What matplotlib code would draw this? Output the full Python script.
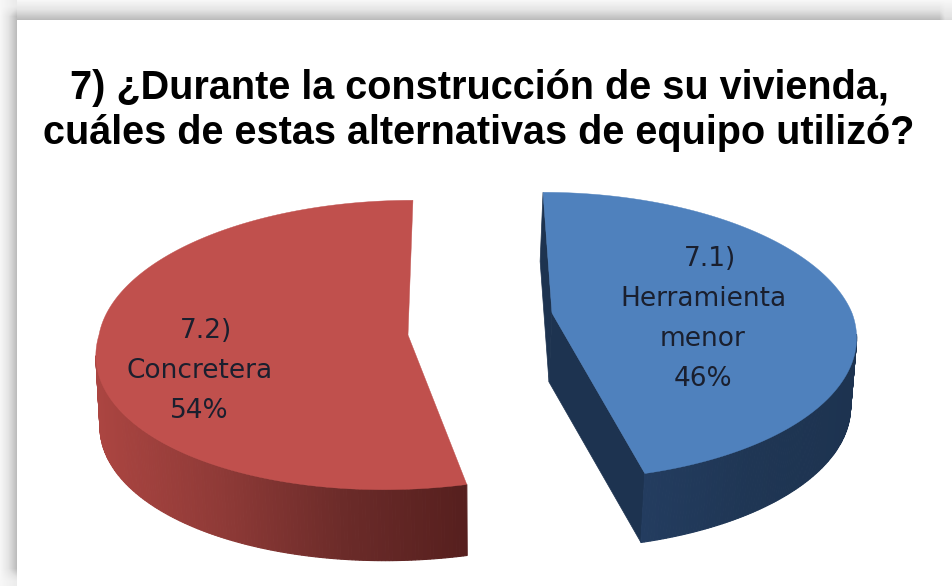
import matplotlib
matplotlib.use('Agg')
import matplotlib.pyplot as plt
import numpy as np
from matplotlib.colors import LinearSegmentedColormap
from matplotlib.patches import Polygon

# chart data
codes = ['7.1)', '7.2)']
names = [['Herramienta', 'menor'], ['Concretera']]
values = [46, 54]
title = '7) ¿Durante la construcción de su vivienda,\ncuáles de estas alternativas de equipo utilizó?'

top_colors = ['#4f81bd', '#c0504d']
wall_colors = [['#1d3350', '#233c5f', '#1f3654', '#1d3350'],
               ['#ab4541', '#8f3a37', '#6b2b29', '#561f1e']]

# geometry of each exploded slice, in pixels: centre, radii, perspective, back/front shear, extrusion
shapes = [dict(cx=552, cy=313, rx=300, ry=140, k=0.16, sb=-10.4, sf=-4, depth=69, dx=-3, faces=True),
          dict(cx=408, cy=335, rx=309, ry=144, k=0.069, sb=5.3, sf=22.7, depth=71, dx=1, faces=False)]
# the lower rim is slightly smaller than the upper one
shrink = 0.01
# label position: centre of the text, first baseline, shift of the code line
label_pos = [(703, 266, 7), (199.5, 338, 7)]
label_gap = 40


def project(t, g):
    # unit circle -> screen, nearer points get a little bigger
    u, v = np.cos(t), np.sin(t)
    s = 1 / (1 + g['k'] * v)
    shear = np.where(v > 0, g['sb'], g['sf']) * v
    return g['cx'] + s * (g['rx'] * u + shear), g['cy'] - s * g['ry'] * v


def draw_slice(ax, start, end, top, walls, g):
    t = np.radians(np.linspace(start, end, 300))
    x, y = project(t, g)
    d, dx = g['depth'], g['dx']
    cx, cy = g['cx'], g['cy']
    low_x = x + dx + (cx - x) * shrink

    # flat cut faces
    if g['faces']:
        for k in [0, -1]:
            face = [(x[k], y[k]), (cx, cy), (cx + dx, cy + d), (low_x[k], y[k] + d)]
            ax.add_patch(Polygon(face, closed=True, fc=walls[0], ec=walls[0], lw=0.5, zorder=2))

    # outer wall, only the part facing us, shaded from left to right
    cmap = LinearSegmentedColormap.from_list('wall', walls)
    x0, x1 = x.min(), x.max()
    for i in range(len(t) - 1):
        if np.sin(t[i]) > -0.15 and np.sin(t[i + 1]) > -0.15:
            continue
        c = cmap((0.5 * (x[i] + x[i + 1]) - x0) / (x1 - x0))
        quad = [(x[i], y[i]), (x[i + 1], y[i + 1]), (low_x[i + 1], y[i + 1] + d), (low_x[i], y[i] + d)]
        ax.add_patch(Polygon(quad, closed=True, fc=c, ec=c, lw=0.8, zorder=3))

    # top face
    pts = np.column_stack([np.r_[cx, x], np.r_[cy, y]])
    ax.add_patch(Polygon(pts, closed=True, fc=top, ec=top, lw=0.3, zorder=4))


fig = plt.figure(figsize=(9.53, 5.86), dpi=100)
ax = fig.add_axes([0, 0, 1, 1])

# grey shadow of the chart frame, fading out towards the ends of each band
shadow = LinearSegmentedColormap.from_list('shadow', ['#f8f8f8', '#e4e4e4', '#bababa'])
yy, xx = np.mgrid[0:20, 0:953]
top_band = (yy + 0.5) / 20 * np.clip(xx / 16, 0.35, 1) * np.clip((953 - xx) / 14, 0.6, 1)
yy, xx = np.mgrid[0:586, 0:17]
left_band = (xx + 0.5) / 17 * np.clip(yy / 16, 0.35, 1) * np.clip((586 - yy) / 18, 0.3, 1)
ax.imshow(top_band, extent=(0, 953, 20, 0), cmap=shadow, vmin=0, vmax=1, aspect='auto', zorder=1)
ax.imshow(left_band, extent=(0, 17, 586, 0), cmap=shadow, vmin=0, vmax=1, aspect='auto', zorder=1)
ax.add_patch(Polygon([(17, 20), (953, 20), (953, 586), (17, 586)], closed=True, fc='white', ec='none', zorder=1.5))
ax.set_xlim(0, 953)
ax.set_ylim(586, 0)
ax.axis('off')

# slices run clockwise from twelve o'clock
angle = 90
for i in range(len(values)):
    sweep = 360 * values[i] / sum(values)
    draw_slice(ax, angle, angle - sweep, top_colors[i], wall_colors[i], shapes[i])
    angle -= sweep

ax.text(479, 110.5, title, ha='center', va='center', fontsize=28.5, fontweight='bold',
        family='Liberation Sans', color='black', linespacing=1.25, zorder=6)

for i in range(len(values)):
    lx, ly, shift = label_pos[i]
    lines = [codes[i]] + names[i] + [f'{values[i]}%']
    for j, line in enumerate(lines):
        ax.text(lx + (shift if j == 0 else 0), ly + j * label_gap, line, ha='center', va='baseline',
                fontsize=19, family='DejaVu Sans', color='#1a1f2e', zorder=6)

fig.savefig('out.png', dpi=100)
